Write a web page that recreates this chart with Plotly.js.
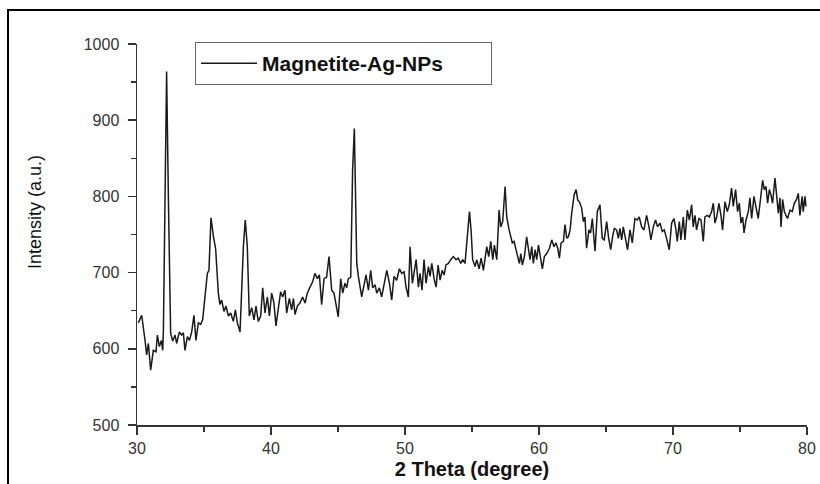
<!DOCTYPE html>
<html>
<head>
<meta charset="utf-8">
<script src="https://cdn.plot.ly/plotly-3.0.1.min.js"></script>
<style>
  html, body { margin: 0; padding: 0; background: #fff; }
  #chart { width: 820px; height: 484px; }
</style>
</head>
<body>
<div id="chart"></div>
<script>
// 2 Theta (degree)
const twoTheta = [
  30.10, 30.35, 30.60, 30.72, 30.85, 31.02, 31.22, 31.42, 31.52, 31.67, 31.82, 31.92, 31.97, 32.11, 32.21, 32.34, 32.51,
  32.66, 32.84, 32.96, 33.16, 33.33, 33.46, 33.58, 33.76, 33.91, 34.08, 34.25, 34.40, 34.58, 34.75, 34.90,
  35.07, 35.25, 35.37, 35.52, 35.70, 35.87, 36.07, 36.19, 36.32, 36.49, 36.64, 36.82, 36.99, 37.19, 37.34, 37.49, 37.69,
  37.94, 38.08, 38.23, 38.38, 38.56, 38.73, 38.88, 39.05, 39.23, 39.38, 39.55, 39.73, 39.88,
  40.05, 40.22, 40.37, 40.55, 40.72, 40.87, 41.04, 41.17, 41.37, 41.54, 41.67, 41.79, 41.97, 42.16, 42.36, 42.54, 42.71, 42.91,
  43.11, 43.28, 43.46, 43.61, 43.78, 43.96, 44.15, 44.33, 44.53, 44.70, 44.85, 45.02, 45.20, 45.35, 45.52, 45.65, 45.77, 45.95,
  46.09, 46.22, 46.40, 46.52, 46.77, 46.94, 47.09, 47.27, 47.44, 47.59, 47.77, 47.89, 48.09, 48.26, 48.39, 48.51, 48.64, 48.84,
  49.01, 49.18, 49.38, 49.58, 49.76, 49.93, 50.08, 50.25, 50.38, 50.55, 50.70, 50.83, 51.00, 51.12, 51.27, 51.42, 51.57, 51.75, 51.87,
  52.00, 52.17, 52.32, 52.47, 52.62, 52.77, 52.92, 53.06, 53.24, 53.41, 53.61, 53.81, 53.98, 54.16, 54.31, 54.48, 54.66, 54.81, 54.93,
  55.05, 55.23, 55.35, 55.53, 55.68, 55.85, 55.97, 56.10, 56.25, 56.40, 56.55, 56.67, 56.85, 57.02, 57.14, 57.29, 57.47, 57.59, 57.77, 57.89,
  58.01, 58.14, 58.26, 58.41, 58.54, 58.64, 58.76, 58.91, 59.08, 59.21, 59.33, 59.46, 59.58, 59.71, 59.83, 59.96,
  60.08, 60.25, 60.40, 60.58, 60.78, 60.95, 61.12, 61.27, 61.40, 61.52, 61.65, 61.82, 61.94, 62.07, 62.19, 62.32, 62.44, 62.62, 62.77, 62.89,
  63.01, 63.18, 63.31, 63.43, 63.55, 63.73, 63.85, 63.98, 64.18, 64.35, 64.55, 64.72, 64.87, 65.05, 65.20, 65.35, 65.49, 65.62, 65.79, 65.92,
  66.04, 66.17, 66.29, 66.46, 66.61, 66.79, 66.96, 67.16, 67.33, 67.48, 67.66, 67.83, 68.03, 68.21, 68.35, 68.53, 68.70, 68.85,
  69.03, 69.20, 69.35, 69.52, 69.72, 69.90, 70.07, 70.22, 70.32, 70.47, 70.59, 70.77, 70.89, 71.07, 71.22, 71.39, 71.51, 71.64, 71.76, 71.94,
  72.09, 72.26, 72.38, 72.56, 72.71, 72.88, 73.01, 73.13, 73.26, 73.43, 73.58, 73.70, 73.88, 74.05, 74.20, 74.37, 74.50, 74.67, 74.82, 74.95,
  75.07, 75.20, 75.30, 75.45, 75.62, 75.74, 75.87, 76.04, 76.19, 76.36, 76.54, 76.69, 76.81, 76.94, 77.06, 77.19, 77.31, 77.43, 77.61, 77.73, 77.86, 77.98,
  78.06, 78.18, 78.31, 78.43, 78.55, 78.73, 78.90, 79.05, 79.22, 79.35, 79.47, 79.64, 79.72, 79.85, 79.92
];
// Intensity (a.u.)
const intensity = [
  634, 644, 611, 592, 607, 572, 598, 596, 618, 603, 611, 598, 624, 800, 964, 800, 621,
  610, 618, 607, 622, 618, 621, 598, 616, 611, 622, 644, 611, 634, 632, 638,
  668, 699, 703, 772, 748, 731, 673, 658, 664, 649, 656, 643, 647, 636, 651, 634, 622,
  735, 769, 735, 643, 654, 638, 656, 636, 643, 680, 647, 668, 643,
  673, 660, 630, 651, 675, 668, 677, 647, 666, 651, 666, 645, 656, 660, 668, 660, 673, 681,
  688, 699, 692, 697, 658, 692, 694, 721, 677, 673, 656, 642, 692, 673, 686, 680, 692, 694,
  835, 889, 712, 695, 668, 686, 697, 677, 703, 680, 684, 673, 680, 668, 681, 692, 703, 686,
  664, 695, 690, 705, 699, 701, 681, 668, 734, 686, 703, 717, 681, 699, 677, 717, 686, 708, 695,
  712, 692, 681, 710, 690, 703, 697, 710, 712, 717, 721, 717, 719, 712, 717, 712, 747, 780, 756,
  717, 708, 717, 705, 719, 703, 717, 734, 721, 741, 717, 736, 717, 782, 760, 767, 813, 773, 756, 747,
  739, 741, 730, 721, 712, 725, 710, 721, 747, 730, 717, 734, 712, 730, 717, 736,
  725, 705, 721, 725, 732, 743, 734, 739, 732, 719, 739, 741, 763, 745, 747, 756, 778, 802, 809, 795,
  793, 785, 767, 773, 732, 756, 752, 771, 728, 780, 789, 745, 743, 767, 745, 730, 747, 758, 756, 745,
  758, 743, 760, 743, 730, 756, 739, 771, 769, 773, 760, 756, 775, 760, 743, 760, 769, 760,
  765, 754, 756, 745, 730, 765, 771, 756, 741, 767, 743, 773, 743, 782, 769, 789, 760, 775, 756, 771,
  769, 741, 773, 775, 773, 780, 791, 765, 773, 791, 775, 756, 793, 780, 789, 811, 787, 809, 780, 791,
  765, 773, 752, 769, 780, 798, 771, 800, 787, 771, 798, 821, 809, 813, 791, 809, 802, 791, 824, 804, 778, 798,
  760, 796, 780, 775, 771, 782, 780, 791, 796, 804, 775, 800, 780, 800, 787
];
const seriesName = "Magnetite-Ag-NPs";
const xTicks = [30, 40, 50, 60, 70, 80];
const yTicks = [500, 600, 700, 800, 900, 1000];

const font = "Liberation Sans, Arial, Helvetica, sans-serif";
const axisCommon = {
  showline: true, linecolor: "#333", linewidth: 1.5,
  ticks: "outside", ticklen: 8, tickwidth: 1.5, tickcolor: "#333",
  showgrid: false, zeroline: false, mirror: false,
  tickfont: { family: font, size: 16, color: "#333" }
};

const trace = {
  x: twoTheta, y: intensity, type: "scatter", mode: "lines", name: seriesName,
  line: { color: "#1a1a1a", width: 1.5 }
};

const layout = {
  width: 820, height: 484,
  margin: { l: 137, r: 13, t: 44, b: 59 },
  paper_bgcolor: "#fff", plot_bgcolor: "#fff",
  showlegend: true,
  legend: {
    x: 0.0866, y: 1.005, xanchor: "left", yanchor: "top",
    orientation: "h", entrywidth: 224, entrywidthmode: "pixels", itemwidth: 56,
    bordercolor: "#666", borderwidth: 1, bgcolor: "#fff",
    font: { family: font, size: 21, color: "#111", weight: "bold" }
  },
  xaxis: Object.assign({}, axisCommon, {
    range: [30, 80], tickvals: xTicks, ticktext: xTicks.map(String),
    minor: { ticks: "outside", ticklen: 5, tickwidth: 1.5, tickcolor: "#333", dtick: 5, tick0: 30 },
    title: { text: "2 Theta (degree)", standoff: 6, font: { family: font, size: 20, color: "#111", weight: "bold" } }
  }),
  yaxis: Object.assign({}, axisCommon, {
    range: [500, 1000], tickvals: yTicks, ticktext: yTicks.map(String),
    ticklabelstandoff: 5,
    minor: { ticks: "outside", ticklen: 5, tickwidth: 1.5, tickcolor: "#333", dtick: 50, tick0: 500 }
  }),
  annotations: [{
    text: "Intensity (a.u.)", textangle: -90, showarrow: false,
    xref: "paper", yref: "paper", x: (35 - 137) / 670, y: (425 - 212) / 381,
    xanchor: "center", yanchor: "middle",
    font: { family: font, size: 18, color: "#111" }
  }],
  shapes: [{
    type: "rect", xref: "paper", yref: "paper",
    x0: -0.1925, x1: 1.06, y0: -0.25, y1: 1.089,
    line: { color: "#000", width: 2 }, fillcolor: "rgba(0,0,0,0)", layer: "below"
  }]
};

Plotly.newPlot("chart", [trace], layout, { displayModeBar: false, staticPlot: true });
</script>
</body>
</html>
